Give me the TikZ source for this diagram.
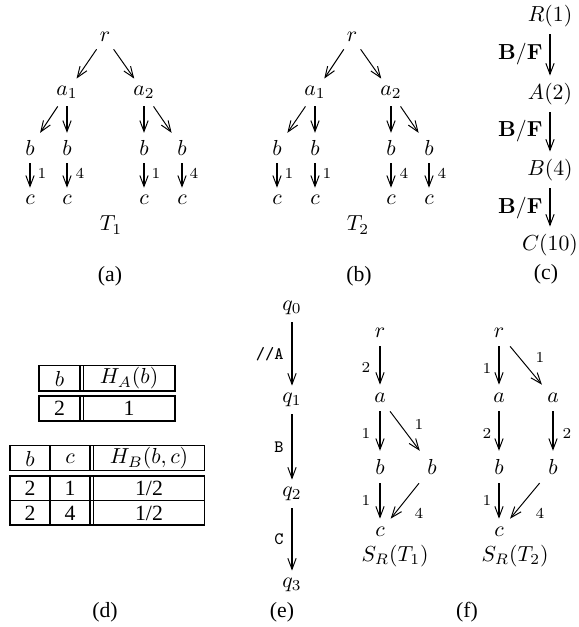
\documentclass[tikz,border=0pt]{standalone}
\usepackage[no-math]{fontspec}
\newfontfamily\tms{Liberation Serif}
\usetikzlibrary{arrows.meta}
\begin{document}
\begin{tikzpicture}[x=0.46pt,y=-0.46pt,
  vx/.style={inner sep=3.3pt},
  fx/.style={inner sep=3.8pt},
  lbl/.style={inner sep=0pt,font=\scriptsize},
  elbl/.style={inner sep=0pt},
  captxt/.style={inner sep=0pt,font=\tms},
  tnum/.style={inner sep=0pt,font=\tms},
  tmath/.style={inner sep=0pt},
  tiphead/.style={-{Straight Barb[length=5pt,width=3.8pt,line width=0.45pt]}},
  varr/.style={tiphead,line width=0.9pt},
  darr/.style={tiphead,line width=0.45pt},
  tline/.style={line width=0.85pt},
  dline/.style={line width=0.75pt},
]
\useasboundingbox (0,0) rectangle (579,627);

% ---------- (a) ----------
\node[vx] (ar)  at (105,37)   {$r$};
\node[vx] (aa1) at (67,92.5)  {$a_1$};
\node[vx] (aa2) at (144,92.5) {$a_2$};
\node[vx] (ab1) at (30,148)  {$b$};
\node[vx] (ab2) at (67,148)  {$b$};
\node[vx] (ab3) at (144,148) {$b$};
\node[vx] (ab4) at (182,148) {$b$};
\node[vx] (ac1) at (30,200)  {$c$};
\node[vx] (ac2) at (67,200)  {$c$};
\node[vx] (ac3) at (144,200) {$c$};
\node[vx] (ac4) at (182,200) {$c$};
\node[inner sep=0pt] (aT) at (111,225) {$T_1$};
\draw[darr] (ar) -- (aa1);
\draw[darr] (ar) -- (aa2);
\draw[darr] (aa1) -- (ab1);
\draw[varr] (aa1) -- (ab2);
\draw[varr] (aa2) -- (ab3);
\draw[darr] (aa2) -- (ab4);
\draw[varr] (ab1) -- (ac1);
\draw[varr] (ab2) -- (ac2);
\draw[varr] (ab3) -- (ac3);
\draw[varr] (ab4) -- (ac4);
\node[lbl] (al1) at (42,173)  {1};
\node[lbl] (al2) at (80,173)  {4};
\node[lbl] (al3) at (156,173) {1};
\node[lbl] (al4) at (194,173) {4};
\node[captxt] (capa) at (110,276) {(a)};

% ---------- (b) ----------
\node[vx] (br)  at (352,37)   {$r$};
\node[vx] (ba1) at (315,92.5) {$a_1$};
\node[vx] (ba2) at (391,92.5) {$a_2$};
\node[vx] (bb1) at (277,148) {$b$};
\node[vx] (bb2) at (315,148) {$b$};
\node[vx] (bb3) at (391,148) {$b$};
\node[vx] (bb4) at (429,148) {$b$};
\node[vx] (bc1) at (277,200) {$c$};
\node[vx] (bc2) at (315,200) {$c$};
\node[vx] (bc3) at (391,200) {$c$};
\node[vx] (bc4) at (429,200) {$c$};
\node[inner sep=0pt] (bT) at (358,225) {$T_2$};
\draw[darr] (br) -- (ba1);
\draw[darr] (br) -- (ba2);
\draw[darr] (ba1) -- (bb1);
\draw[varr] (ba1) -- (bb2);
\draw[varr] (ba2) -- (bb3);
\draw[darr] (ba2) -- (bb4);
\draw[varr] (bb1) -- (bc1);
\draw[varr] (bb2) -- (bc2);
\draw[varr] (bb3) -- (bc3);
\draw[varr] (bb4) -- (bc4);
\node[lbl] (bl1) at (289,173) {1};
\node[lbl] (bl2) at (327,173) {1};
\node[lbl] (bl3) at (404,173) {4};
\node[lbl] (bl4) at (442,173) {4};
\node[captxt] (capb) at (359,276) {(b)};

% ---------- (c) ----------
\node[vx] (cR) at (550,16)  {$R(1)$};
\node[vx] (cA) at (550,94)  {$A(2)$};
\node[vx] (cB) at (550,170) {$B(4)$};
\node[vx] (cC) at (550,245) {$C(10)$};
\draw[varr] (cR) -- (cA);
\draw[varr] (cA) -- (cB);
\draw[varr] (cB) -- (cC);
\node[elbl,anchor=east] (cl1) at (543,54)  {$\mathbf{B}/\mathbf{F}$};
\node[elbl,anchor=east] (cl2) at (543,131) {$\mathbf{B}/\mathbf{F}$};
\node[elbl,anchor=east] (cl3) at (543,208) {$\mathbf{B}/\mathbf{F}$};
\node[captxt] (capc) at (546,274) {(c)};

% ---------- (d) ----------
\draw[tline] (39,365.5) rectangle (175,391);
\draw[tline] (39,396) rectangle (175,421);
\foreach \yy/\zz in {365.5/391,396/421}{
  \draw[dline] (80.3,\yy) -- (80.3,\zz);
  \draw[dline] (83.5,\yy) -- (83.5,\zz);
}
\node[tmath] (d1h1) at (59.5,378.5) {$b$};
\node[tmath] (d1h2) at (129,378.5) {$H_A(b)$};
\node[tnum] (d1r1) at (59.5,408.5) {2};
\node[tnum] (d1r2) at (129,408.5) {1};

\draw[tline] (10,445.5) rectangle (204.5,470.5);
\draw[tline] (10,476) rectangle (204.5,525);
\draw[tline] (10,500.5) -- (204.5,500.5);
\draw[tline] (50,445.5) -- (50,470.5);
\draw[tline] (50,476) -- (50,525);
\foreach \yy/\zz in {445.5/470.5,476/525}{
  \draw[dline] (90.2,\yy) -- (90.2,\zz);
  \draw[dline] (93.4,\yy) -- (93.4,\zz);
}
\node[tmath] (d2h1) at (30,458.5) {$b$};
\node[tmath] (d2h2) at (70,458.5) {$c$};
\node[tmath] (d2h3) at (149,458.5) {$H_B(b,c)$};
\node[tnum] (d2a1) at (30,488.5) {2};
\node[tnum] (d2a2) at (70,488.5) {1};
\node[tnum] (d2a3) at (149,488.5) {1/2};
\node[tnum] (d2b1) at (30,513) {2};
\node[tnum] (d2b2) at (70,513) {4};
\node[tnum] (d2b3) at (149,513) {1/2};
\node[captxt] (capd) at (105,612) {(d)};

% ---------- (e) ----------
\node[vx] (q0) at (292,308) {$q_0$};
\node[vx] (q1) at (292,400) {$q_1$};
\node[vx] (q2) at (292,494) {$q_2$};
\node[vx] (q3) at (292,585) {$q_3$};
\draw[varr] (q0) -- (q1);
\draw[varr] (q1) -- (q2);
\draw[varr] (q2) -- (q3);
\node[elbl,anchor=east,font=\footnotesize\ttfamily] (el1) at (284,354) {//A};
\node[elbl,anchor=east,font=\footnotesize\ttfamily] (el2) at (284,447) {B};
\node[elbl,anchor=east,font=\footnotesize\ttfamily] (el3) at (284,539) {C};
\node[captxt] (cape) at (282,612) {(e)};

% ---------- (f) ----------
\node[fx] (fr1) at (380,333) {$r$};
\node[fx] (fa1) at (380,398) {$a$};
\node[fx] (fb1) at (380,467) {$b$};
\node[fx] (fb2) at (432,467) {$b$};
\node[fx] (fc1) at (380,532) {$c$};
\node[inner sep=0pt] (fS1) at (395,556) {$S_R(T_1)$};
\draw[varr] (fr1) -- (fa1);
\draw[varr] (fa1) -- (fb1);
\draw[darr] (fa1) -- (fb2);
\draw[varr] (fb1) -- (fc1);
\draw[darr] (fb2) -- (fc1);
\node[lbl] (fl1) at (366,367) {2};
\node[lbl] (fl2) at (366,433) {1};
\node[lbl] (fl3) at (419,424) {1};
\node[lbl] (fl4) at (366,500) {1};
\node[lbl] (fl5) at (419,513) {4};

\node[fx] (fr2) at (499,333) {$r$};
\node[fx] (fa2) at (499,398) {$a$};
\node[fx] (fa3) at (553,398) {$a$};
\node[fx] (fb3) at (499,467) {$b$};
\node[fx] (fb4) at (553,467) {$b$};
\node[fx] (fc2) at (499,532) {$c$};
\node[inner sep=0pt] (fS2) at (515,556) {$S_R(T_2)$};
\draw[varr] (fr2) -- (fa2);
\draw[darr] (fr2) -- (fa3);
\draw[varr] (fa2) -- (fb3);
\draw[varr] (fa3) -- (fb4);
\draw[varr] (fb3) -- (fc2);
\draw[darr] (fb4) -- (fc2);
\node[lbl] (fm1) at (487,368) {1};
\node[lbl] (fm2) at (540,357) {1};
\node[lbl] (fm3) at (487,433) {2};
\node[lbl] (fm4) at (567,433) {2};
\node[lbl] (fm5) at (487,500) {1};
\node[lbl] (fm6) at (540,513) {4};
\node[captxt] (capf) at (467,612) {(f)};
\end{tikzpicture}
\end{document}
